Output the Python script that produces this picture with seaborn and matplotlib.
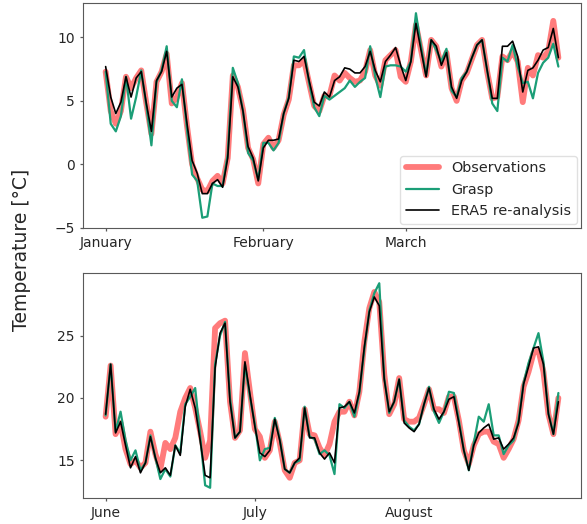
import numpy as np
import pandas as pd
import matplotlib
matplotlib.use("Agg")
import matplotlib.pyplot as plt
import matplotlib.dates as mdates
import seaborn as sns

# --- Winter period: 1 January - 31 March ---
winter_start = "2019-01-01"
winter_obs = [7.3, 4.2, 3.2, 4.2, 6.9, 6.0, 6.8, 7.4, 4.8, 2.4,
              6.5, 7.3, 8.7, 4.8, 5.3, 6.4, 3.0, 0.0, -1.1, -2.0,
              -2.1, -1.3, -0.9, -1.5, 0.5, 7.0, 6.1, 4.3, 1.3, 0.4,
              -1.5, 1.6, 2.1, 1.3, 1.9, 3.9, 5.1, 7.8, 7.8, 8.2,
              6.4, 4.6, 4.2, 5.4, 5.4, 7.0, 6.6, 7.2, 6.8, 6.5,
              6.6, 7.3, 9.0, 7.0, 6.2, 8.2, 8.6, 9.0, 6.9, 6.5,
              8.1, 11.0, 9.0, 7.0, 9.8, 9.3, 7.7, 8.8, 6.0, 5.0,
              6.6, 7.2, 8.3, 9.4, 9.8, 7.3, 5.2, 5.3, 8.5, 8.2,
              8.9, 8.1, 4.9, 7.6, 7.0, 8.6, 8.4, 8.9, 11.3, 8.4]
winter_grasp = [7.3, 3.2, 2.6, 3.8, 6.9, 3.6, 5.3, 7.4, 4.6, 1.5,
                6.5, 7.4, 9.3, 5.0, 4.5, 6.7, 2.7, -0.8, -1.3, -4.2,
                -4.1, -1.5, -1.7, -1.7, 0.8, 7.6, 6.4, 4.2, 0.9, 0.3,
                -1.2, 1.7, 1.7, 1.1, 1.7, 4.0, 5.3, 8.5, 8.4, 9.0,
                6.4, 4.5, 3.8, 5.4, 5.1, 5.4, 5.7, 6.0, 6.6, 6.1,
                6.5, 6.8, 9.3, 6.9, 5.3, 7.7, 7.8, 7.8, 7.7, 7.3,
                8.1, 11.9, 9.3, 7.0, 9.8, 9.0, 8.1, 9.1, 5.8, 5.3,
                6.8, 7.3, 8.4, 9.4, 9.8, 7.4, 4.8, 4.2, 8.4, 8.1,
                9.4, 7.7, 6.4, 6.5, 5.2, 7.2, 8.0, 8.4, 9.5, 7.7]
winter_era5 = [7.7, 5.3, 4.0, 4.9, 6.9, 5.3, 6.8, 7.3, 4.8, 2.6,
               6.6, 7.3, 8.9, 5.3, 6.0, 6.3, 3.2, 0.3, -0.7, -2.3,
               -2.3, -1.5, -1.2, -1.8, 0.5, 6.9, 6.1, 4.2, 1.4, 0.5,
               -1.3, 1.3, 1.9, 1.9, 2.0, 4.0, 5.2, 8.2, 8.1, 8.5,
               6.6, 4.9, 4.6, 5.7, 5.3, 6.6, 6.9, 7.6, 7.5, 7.2,
               7.2, 7.7, 8.9, 7.4, 6.5, 8.1, 8.6, 9.2, 7.8, 6.6,
               8.1, 11.1, 9.0, 6.9, 9.8, 9.3, 7.8, 8.8, 6.1, 5.2,
               6.6, 7.3, 8.4, 9.4, 9.8, 7.4, 5.2, 5.2, 9.3, 9.3,
               9.7, 8.5, 5.7, 7.4, 7.6, 8.2, 9.0, 9.2, 10.7, 8.4]
winter_months = ["2019-01-01", "2019-02-01", "2019-03-01"]
winter_yticks = [-5, 0, 5, 10]

# --- Summer period: 1 June - 31 August ---
summer_start = "2019-06-01"
summer_obs = [18.5, 22.6, 17.1, 18.0, 15.9, 14.7, 15.0, 14.4, 14.8, 17.3,
              15.5, 14.3, 16.4, 15.9, 16.8, 18.9, 20.0, 20.8, 19.2, 17.3,
              15.2, 16.6, 25.6, 26.0, 26.2, 19.7, 16.8, 17.4, 23.6, 20.5,
              17.5, 16.9, 15.2, 15.8, 18.1, 16.4, 14.2, 13.6, 14.8, 15.0,
              19.1, 17.1, 17.0, 16.0, 15.4, 16.3, 18.1, 18.9, 18.9, 19.7,
              18.6, 20.5, 24.5, 27.2, 28.5, 27.7, 21.9, 18.7, 19.5, 21.6,
              18.3, 18.1, 18.1, 18.4, 19.5, 20.7, 19.1, 19.1, 18.8, 20.1,
              20.1, 18.2, 15.8, 14.7, 16.2, 17.1, 17.3, 17.3, 16.5, 16.3,
              15.2, 15.9, 16.7, 18.2, 20.9, 22.1, 23.6, 23.8, 22.1, 18.7,
              17.1, 20.0]
summer_grasp = [18.6, 22.7, 17.3, 18.9, 16.6, 15.0, 15.8, 14.2, 14.8, 17.0,
                15.2, 13.5, 14.3, 13.7, 16.2, 15.6, 19.5, 20.1, 20.8, 16.9,
                13.0, 12.8, 22.7, 25.0, 26.1, 20.0, 16.8, 17.3, 22.7, 20.1,
                17.9, 15.0, 15.9, 16.0, 18.4, 16.7, 14.3, 14.0, 14.8, 15.0,
                19.3, 16.9, 16.7, 15.5, 15.8, 15.4, 13.9, 19.5, 19.2, 19.7,
                18.5, 20.4, 23.9, 27.0, 28.4, 29.2, 21.6, 18.8, 19.7, 21.5,
                18.2, 17.7, 17.4, 17.9, 19.5, 20.9, 18.9, 18.0, 18.9, 20.5,
                20.4, 18.2, 15.8, 14.2, 16.4, 18.5, 18.1, 19.5, 17.0, 17.0,
                15.5, 16.2, 16.6, 18.2, 21.2, 22.8, 24.0, 25.2, 22.9, 18.8,
                17.1, 20.4]
summer_era5 = [18.7, 22.7, 17.2, 18.1, 16.2, 14.4, 15.3, 14.0, 14.8, 16.9,
               15.2, 14.0, 14.4, 13.8, 16.2, 15.4, 19.3, 20.7, 19.2, 16.6,
               13.8, 13.6, 22.4, 25.2, 26.0, 19.7, 16.8, 17.3, 22.9, 20.3,
               17.7, 15.6, 15.3, 15.8, 18.3, 16.6, 14.3, 14.0, 14.8, 15.2,
               19.2, 16.8, 16.8, 15.6, 15.1, 15.6, 14.8, 19.2, 19.3, 19.7,
               18.8, 20.5, 24.1, 26.9, 28.1, 27.4, 21.5, 18.9, 19.7, 21.5,
               18.0, 17.6, 17.3, 17.9, 19.5, 20.8, 19.1, 18.3, 18.9, 19.9,
               20.1, 18.0, 15.8, 14.2, 16.2, 17.2, 17.6, 17.9, 16.7, 16.8,
               15.9, 16.3, 16.8, 18.0, 21.1, 22.5, 24.0, 24.1, 22.7, 18.7,
               17.1, 19.7]
summer_months = ["2019-06-01", "2019-07-01", "2019-08-01"]
summer_yticks = [15, 20, 25]

series_names = ["Observations", "Grasp", "ERA5 re-analysis"]
series_colors = ["#ff7b7b", "#1b9e77", "black"]
series_widths = [4.2, 1.6, 1.2]

sns.set_style("ticks", {"axes.edgecolor": "0.35", "xtick.color": "0.35",
                        "ytick.color": "0.35", "xtick.direction": "out",
                        "ytick.direction": "out"})
plt.rcParams["font.family"] = ["DejaVu Sans"]

fig = plt.figure(figsize=(5.87, 5.24), dpi=100)
ax_top = fig.add_axes([0.1414, 0.5649, 0.8484, 0.4294])
ax_bot = fig.add_axes([0.1414, 0.0496, 0.8484, 0.4294])


def draw_period(ax, start, values, months, yticks, legend):
    dates = pd.date_range(start, periods=len(values[0]), freq="D")
    for name, vals, col, lw in zip(series_names, values, series_colors, series_widths):
        sns.lineplot(x=dates, y=vals, ax=ax, color=col, linewidth=lw,
                     label=name if legend else None)
    ax.set_xticks(pd.to_datetime(months))
    ax.xaxis.set_major_formatter(mdates.DateFormatter("%B"))
    ax.set_yticks(yticks)
    ax.tick_params(labelsize=10, labelcolor="0.15", length=2.5, width=0.9)
    ax.set_xlabel("")
    ax.set_ylabel("")
    for sp in ax.spines.values():
        sp.set_visible(True)
        sp.set_color("0.35")
    if legend:
        ax.legend(loc="lower right", fontsize=10.4, frameon=True,
                  edgecolor="0.85", fancybox=True, handlelength=2.3,
                  borderaxespad=0.3)
    else:
        leg = ax.get_legend()
        if leg is not None:
            leg.remove()


draw_period(ax_top, winter_start, [winter_obs, winter_grasp, winter_era5],
            winter_months, winter_yticks, legend=True)
draw_period(ax_bot, summer_start, [summer_obs, summer_grasp, summer_era5],
            summer_months, summer_yticks, legend=False)

fig.text(0.036, 0.523, "Temperature [°C]", rotation=90, va="center",
         ha="center", fontsize=13.5, color="0.15")

fig.savefig("out.png", dpi=100)
